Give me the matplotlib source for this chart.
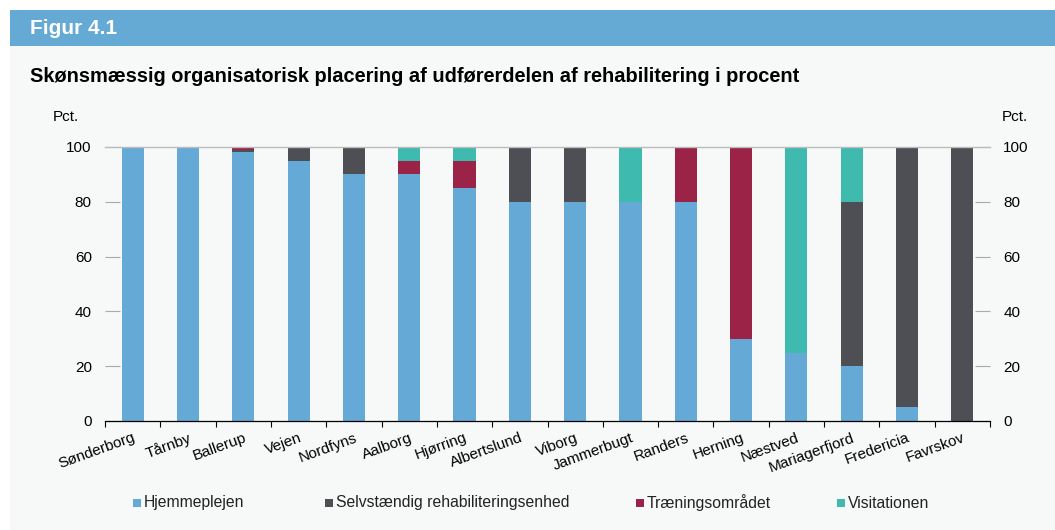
import matplotlib
matplotlib.use("Agg")
import matplotlib.pyplot as plt
from matplotlib.patches import Rectangle
import numpy as np

plt.rcParams['font.family'] = ['Liberation Sans', 'DejaVu Sans']

kommuner = ["Sønderborg", "Tårnby", "Ballerup", "Vejen", "Nordfyns", "Aalborg", "Hjørring",
            "Albertslund", "Viborg", "Jammerbugt", "Randers", "Herning", "Næstved",
            "Mariagerfjord", "Fredericia", "Favrskov"]
hjemmeplejen = [100, 100, 98, 95, 90, 90, 85, 80, 80, 80, 80, 30, 25, 20, 5, 0]
selvstaendig = [0, 0, 1, 5, 10, 0, 0, 20, 20, 0, 0, 0, 0, 60, 95, 100]
traening = [0, 0, 1, 0, 0, 5, 10, 0, 0, 0, 20, 70, 0, 0, 0, 0]
visitation = [0, 0, 0, 0, 0, 5, 5, 0, 0, 20, 0, 0, 75, 20, 0, 0]
series_names = ["Hjemmeplejen", "Selvstændig rehabiliteringsenhed", "Træningsområdet", "Visitationen"]
colors = ["#65AAD6", "#4D4F54", "#9B2348", "#3FBAAE"]
yticks = [0, 20, 40, 60, 80, 100]

W, H = 1055, 530
fig = plt.figure(figsize=(W / 100, H / 100), dpi=100)
fig.patch.set_facecolor("white")

# panel background and header band
fig.patches.append(Rectangle((10 / W, 0), 1 - 10 / W, 1 - 46 / H, transform=fig.transFigure,
                             facecolor="#F7F8F8", edgecolor="none", zorder=-5))
fig.patches.append(Rectangle((10 / W, 1 - 46 / H), 1 - 10 / W, 36 / H, transform=fig.transFigure,
                             facecolor="#64AAD5", edgecolor="none", zorder=-5))
fig.text(30 / W, 1 - 28 / H, "Figur 4.1", color="white", fontsize=15, fontweight="bold",
         va="center", ha="left")
fig.text(30 / W, 1 - 76 / H,
         "Skønsmæssig organisatorisk placering af udførerdelen af rehabilitering i procent",
         color="black", fontsize=14.4, fontweight="bold", va="center", ha="left")

ax = fig.add_axes([105 / W, 1 - 421 / H, 885 / W, 274 / H])
ax.set_facecolor("none")

x = np.arange(len(kommuner))
bottom = np.zeros(len(kommuner))
for vals, name, c in zip([hjemmeplejen, selvstaendig, traening, visitation], series_names, colors):
    ax.bar(x, vals, width=0.4, bottom=bottom, color=c, label=name, linewidth=0, zorder=2)
    bottom += np.array(vals)

ax.set_xlim(-0.5, len(kommuner) - 0.5)
ax.set_ylim(0, 100)
ax.set_yticks(yticks)
ax.tick_params(axis="y", which="both", direction="in", length=11, width=0.8, color="#AAAAAA",
               labelsize=11, pad=9.5, left=True, right=True, labelleft=True, labelright=True)
ax.set_xticks(x)
ax.set_xticklabels(kommuner, rotation=20, ha="right", rotation_mode="anchor", fontsize=11)
ax.tick_params(axis="x", which="major", length=0, pad=7)
ax.set_xticks(np.arange(-0.5, len(kommuner), 1), minor=True)
ax.tick_params(axis="x", which="minor", direction="out", length=4, width=0.8, color="black")

for s in ["left", "right"]:
    ax.spines[s].set_visible(False)
ax.spines["top"].set_color("#BBBBBB")
ax.spines["top"].set_linewidth(1.0)
ax.spines["bottom"].set_color("black")
ax.spines["bottom"].set_linewidth(0.9)

fig.text(66 / W, 1 - 117 / H, "Pct.", fontsize=11, ha="center", va="center")
fig.text(1015 / W, 1 - 117 / H, "Pct.", fontsize=11, ha="center", va="center")

# legend
leg_x = [133, 325, 636, 837]
for lx, name, c in zip(leg_x, series_names, colors):
    fig.patches.append(Rectangle((lx / W, 1 - 507 / H), 8 / W, 8 / H,
                                 transform=fig.transFigure, facecolor=c, edgecolor="none"))
    fig.text((lx + 11) / W, 1 - 503 / H, name, fontsize=11.3, ha="left", va="center", color="#222222")

fig.savefig("out.png", dpi=100, facecolor=fig.get_facecolor())
